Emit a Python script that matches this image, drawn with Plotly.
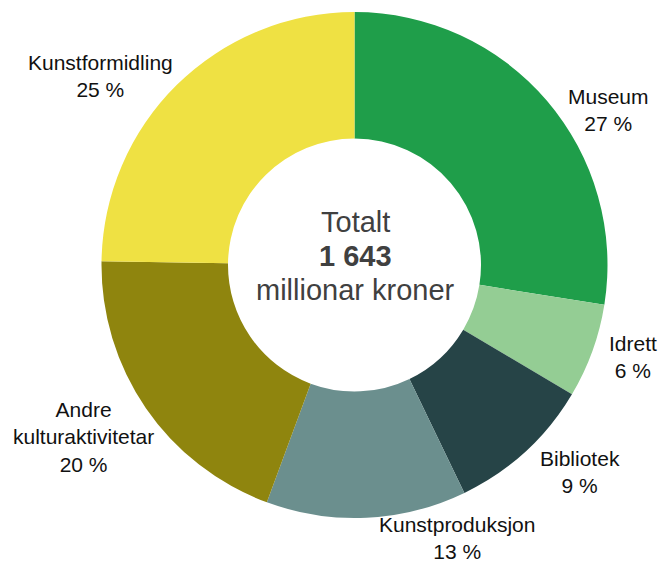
import plotly.graph_objects as go

categories = ["Museum", "Idrett", "Bibliotek", "Kunstproduksjon", "Andre kulturaktivitetar", "Kunstformidling"]
# millionar kroner (sum 1 643)
amounts = [452, 99, 153, 210, 322, 407]
label_texts = ["Museum<br>27 %", "Idrett<br>6 %", "Bibliotek<br>9 %", "Kunstproduksjon<br>13 %",
               "Andre<br>kulturaktivitetar<br>20 %", "Kunstformidling<br>25 %"]
total_text = ["Totalt", "<b>1 643</b>", "millionar kroner"]

colors = ["#1f9e4a", "#94cd94", "#264447", "#6b8f8e", "#8f850e", "#efe143"]
# label centre positions in pixels (x, y from top)
label_pos = [(608, 110), (633, 357), (580, 472), (457, 538), (83, 437), (100, 76)]
center_pos = [(355, 222), (355, 256), (355, 290)]

W, H = 659, 563

fig = go.Figure(go.Pie(
    labels=categories, values=amounts, hole=0.5, sort=False,
    direction="clockwise", rotation=0,
    marker=dict(colors=colors, line=dict(width=0)),
    textinfo="none", hoverinfo="label+value+percent", showlegend=False,
    domain=dict(x=[101.5 / W, 607.5 / W], y=[45 / H, 551 / H]),
))

ann = []
for t, (px, py) in zip(label_texts, label_pos):
    ann.append(dict(text=t, x=px / W, y=1 - py / H, xref="paper", yref="paper",
                    showarrow=False, xanchor="center", yanchor="middle",
                    font=dict(family="Liberation Sans, Arial", size=21, color="#111111")))
for t, (px, py) in zip(total_text, center_pos):
    ann.append(dict(text=t, x=px / W, y=1 - py / H, xref="paper", yref="paper",
                    showarrow=False, xanchor="center", yanchor="middle",
                    font=dict(family="Liberation Sans, Arial", size=29, color="#404040")))

fig.update_layout(width=W, height=H, margin=dict(l=0, r=0, t=0, b=0),
                  paper_bgcolor="white", plot_bgcolor="white", annotations=ann)
fig.write_html("out.html", config={"displayModeBar": False},
               post_script="document.body.style.margin='0';document.body.style.overflow='hidden';")
